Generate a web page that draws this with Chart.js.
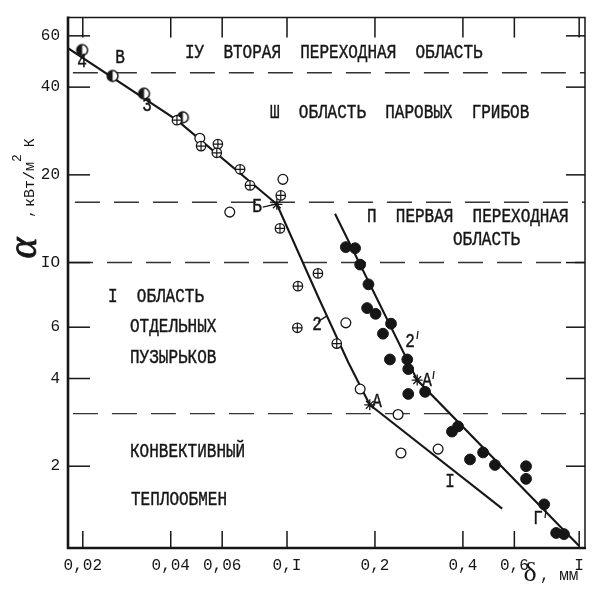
<!DOCTYPE html>
<html><head><meta charset="utf-8">
<script src="https://cdn.jsdelivr.net/npm/chart.js@4.4.1/dist/chart.umd.min.js"></script>
<style>html,body{margin:0;padding:0;background:#fff;}canvas{display:block;}</style>
</head><body>
<canvas id="c" width="594" height="593"></canvas>
<script>
// ---- data ----
const xTicks = [0.02, 0.04, 0.06, 0.1, 0.2, 0.4, 0.6, 1];
const xTickLabels = ['0,02', '0,04', '0,06', '0,I', '0,2', '0,4', '0,6', 'I'];
const yTicks = [2, 4, 6, 10, 20, 40, 60];
const yTickLabels = ['2', '4', '6', 'IO', '20', '40', '60'];

const halfPts = [[0.0199,53.6],[0.0253,43.7],[0.0324,38.0],[0.0440,31.5]];
const plusPts = [[0.0420,30.8],[0.0508,25.1],[0.0580,25.5],[0.0575,23.8],[0.0691,20.9],[0.0747,18.4],
                 [0.0952,17.0],[0.0946,13.1],[0.1276,9.18],[0.109,8.30],[0.1085,5.97],[0.148,5.27]];
const openPts = [[0.0503,26.7],[0.0968,19.3],[0.0637,14.9],[0.159,6.21],[0.178,3.68],[0.240,3.01],
                 [0.2455,2.22],[0.329,2.29]];
const filledPts = [[0.159,11.3],[0.171,11.2],[0.178,9.84],[0.190,8.42],[0.188,6.98],[0.201,6.67],
                   [0.227,6.17],[0.213,5.70],[0.225,4.65],[0.258,4.65],[0.260,4.31],[0.260,3.54],
                   [0.297,3.60],[0.367,2.63],[0.385,2.74],[0.423,2.11],[0.469,2.23],[0.515,2.02],
                   [0.658,2.00],[0.658,1.81],[0.759,1.48],[0.834,1.18],[0.887,1.17]];
const starPts = [[0.0923,15.85],[0.192,3.25],[0.279,3.95]];

const line1 = [[0.0178,54.4],[0.0420,30.8],[0.0923,15.85]];
const line2 = [[0.0923,15.85],[0.128,7.6],[0.162,4.55],[0.192,3.25]];
const lineI = [[0.192,3.25],[0.545,1.43]];
const line2p = [[0.146,14.7],[0.279,3.95],[1.0,1.065]];
const leaderB = [[0.0826,15.5],[0.0909,15.85]];
const leader2 = [[0.1277,6.27],[0.137,6.56]];
const dashLevels = [44.8, 16.1, 10, 3.03];
const dashStartX = [0.0185, 0.0188, 0.0178, 0.0185];

const xMin = 0.0178, xMax = 1.047, yMin = 1.048, yMax = 69.3;

// ---- text annotations (canvas pixel positions) ----
const notes = [
  ['IУ  ВТОРАЯ  ПЕРЕХОДНАЯ  ОБЛАСТЬ', 185, 53],
  ['Ш  ОБЛАСТЬ  ПАРОВЫХ  ГРИБОВ', 270, 113],
  ['П  ПЕРВАЯ  ПЕРЕХОДНАЯ', 367, 217],
  ['ОБЛАСТЬ', 453, 240],
  ['I  ОБЛАСТЬ', 108, 297],
  ['ОТДЕЛЬНЫХ', 130, 327],
  ['ПУЗЫРЬКОВ', 130, 358],
  ['КОНВЕКТИВНЫЙ', 130, 452],
  ['ТЕПЛООБМЕН', 131, 500],
];
const markLabels = [
  ['4', 82, 62], ['В', 120, 58], ['3', 147, 106], ['Б', 257, 207],
  ['2', 317, 325], ['2', 410, 342], ['I', 450, 482], ['Г', 538, 519],
  ['A', 427, 381], ['A', 377, 402]
];
const primes = [[418, 335], [434, 375], [546, 514]];

const toXY = a => a.map(p => ({x: p[0], y: p[1]}));
const INK = '#161616';

function halfCircle(r) {
  const c = document.createElement('canvas');
  const s = Math.ceil(2 * r + 4);
  c.width = s; c.height = s;
  const g = c.getContext('2d');
  const m = s / 2;
  g.fillStyle = '#fff';
  g.beginPath(); g.arc(m, m, r, 0, Math.PI * 2); g.fill();
  g.fillStyle = INK;
  g.beginPath(); g.arc(m, m, r, Math.PI / 2, Math.PI * 1.5); g.closePath(); g.fill();
  g.strokeStyle = INK; g.lineWidth = 1.5;
  g.beginPath(); g.arc(m, m, r, 0, Math.PI * 2); g.stroke();
  return c;
}

const lineDs = (d, w, order) => ({type: 'line', data: toXY(d), borderColor: INK, borderWidth: w,
  pointRadius: 0, showLine: true, fill: false, tension: 0, order: order});

const datasets = [];
datasets.push({data: toXY(plusPts), pointStyle: 'cross', pointRadius: 4.6, borderColor: INK, borderWidth: 1.2, order: 1});
datasets.push({data: toXY(plusPts), pointStyle: 'circle', pointRadius: 4.7, backgroundColor: '#fff', borderColor: INK, borderWidth: 1.3, order: 2});
datasets.push({data: toXY(openPts), pointStyle: 'circle', pointRadius: 4.9, backgroundColor: '#fff', borderColor: INK, borderWidth: 1.3, order: 2});
datasets.push({data: toXY(filledPts), pointStyle: 'circle', pointRadius: 5.4, backgroundColor: INK, borderColor: INK, borderWidth: 1, order: 2});
datasets.push({data: toXY(halfPts), pointStyle: halfCircle(5.4), order: 2});
datasets.push({data: toXY(starPts), pointStyle: 'star', pointRadius: 5.5, borderColor: INK, borderWidth: 1.3, order: 1});
datasets.push(lineDs(line1, 2.1, 10));
datasets.push(lineDs(line2, 2.1, 10));
datasets.push(lineDs(lineI, 2.1, 10));
datasets.push(lineDs(line2p, 2.1, 10));
datasets.push(lineDs(leaderB, 1.3, 10));
datasets.push(lineDs(leader2, 1.3, 10));
dashLevels.forEach((v, i) => {
  const d = lineDs([[dashStartX[i], v], [xMax, v]], 1.4, 20);
  d.borderDash = [25, 14];
  d.borderColor = '#333';
  datasets.push(d);
});

const framePlugin = {
  id: 'frame',
  afterDraw(chart) {
    const ctx = chart.ctx, a = chart.chartArea;
    const xs = chart.scales.x, ys = chart.scales.y;
    ctx.save();
    ctx.strokeStyle = INK;
    // frame
    ctx.lineWidth = 1.5;
    ctx.beginPath(); ctx.moveTo(a.left, a.top); ctx.lineTo(a.right, a.top); ctx.lineTo(a.right, a.bottom); ctx.stroke();
    ctx.lineWidth = 2.6;
    ctx.beginPath(); ctx.moveTo(a.left, a.top - 1); ctx.lineTo(a.left, a.bottom); ctx.lineTo(a.right + 1, a.bottom); ctx.stroke();
    // inward ticks
    ctx.lineWidth = 1.5;
    xTicks.forEach(v => {
      const px = xs.getPixelForValue(v);
      ctx.beginPath(); ctx.moveTo(px, a.bottom); ctx.lineTo(px, a.bottom - 17); ctx.stroke();
      ctx.beginPath(); ctx.moveTo(px, a.top); ctx.lineTo(px, a.top + 20); ctx.stroke();
    });
    yTicks.forEach(v => {
      const py = ys.getPixelForValue(v);
      ctx.beginPath(); ctx.moveTo(a.left, py); ctx.lineTo(a.left + 22, py); ctx.stroke();
      ctx.beginPath(); ctx.moveTo(a.right, py); ctx.lineTo(a.right - 19, py); ctx.stroke();
    });
    // text notes
    ctx.fillStyle = INK;
    const drawT = (s, x, y, size, align) => {
      ctx.save(); ctx.translate(x, y); ctx.scale(1, 1.28);
      ctx.font = size + 'px "Liberation Mono"';
      ctx.textAlign = align || 'left'; ctx.textBaseline = 'middle';
      ctx.lineWidth = 0.35; ctx.strokeStyle = INK;
      ctx.fillText(s, 0, 0); ctx.strokeText(s, 0, 0); ctx.restore();
    };
    notes.forEach(n => drawT(n[0], n[1], n[2], 16, 'left'));
    markLabels.forEach(n => drawT(n[0], n[1], n[2], 16, 'center'));
    primes.forEach(p => { ctx.lineWidth = 1.2; ctx.beginPath(); ctx.moveTo(p[0], p[1] - 4); ctx.lineTo(p[0] - 1, p[1] + 4); ctx.stroke(); });
    // y title
    ctx.save(); ctx.translate(25, 248); ctx.rotate(-Math.PI / 2);
    ctx.font = 'italic 40px "Liberation Serif"'; ctx.textAlign = 'center'; ctx.textBaseline = 'middle';
    ctx.lineWidth = 0.8; ctx.fillText('α', 0, 0); ctx.strokeText('α', 0, 0); ctx.restore();
    ctx.save(); ctx.translate(30, 218); ctx.rotate(-Math.PI / 2);
    ctx.textBaseline = 'middle'; ctx.textAlign = 'left';
    ctx.font = '15px "Liberation Mono"';
    ctx.fillText(',', 0, -2);
    ctx.fillText('кВт/м', 11, 0);
    let w = 11 + ctx.measureText('кВт/м').width;
    ctx.font = '13px "Liberation Mono"';
    ctx.fillText('2', w, -12);
    w += ctx.measureText('2').width + 7;
    ctx.font = '15px "Liberation Mono"';
    ctx.fillText('К', w, 0);
    ctx.restore();
    // x title
    ctx.font = '28px "Liberation Serif"'; ctx.textAlign = 'center'; ctx.textBaseline = 'middle';
    ctx.fillText('δ', 530, 574);
    ctx.font = '16px "Liberation Mono"'; ctx.textAlign = 'left';
    ctx.fillText(', мм', 540, 576);
    ctx.restore();
  }
};

new Chart(document.getElementById('c'), {
  type: 'scatter',
  data: {datasets},
  options: {
    responsive: false, animation: false, events: [],
    layout: {padding: {top: 11, right: 9, left: 0, bottom: 0}},
    plugins: {legend: {display: false}, tooltip: {enabled: false}},
    scales: {
      x: {
        type: 'logarithmic', min: xMin, max: xMax,
        afterBuildTicks: s => { s.ticks = xTicks.map(v => ({value: v})); },
        afterFit: s => { s.height = 45; },
        ticks: {autoSkip: false, maxRotation: 0, padding: 8, color: INK,
          font: {family: 'Liberation Mono', size: 16},
          callback: (v, i) => xTickLabels[i]},
        grid: {display: false, drawTicks: false}, border: {display: false}
      },
      y: {
        type: 'logarithmic', min: yMin, max: yMax,
        afterBuildTicks: s => { s.ticks = yTicks.map(v => ({value: v})); },
        afterFit: s => { s.width = 68; },
        ticks: {autoSkip: false, padding: 8, color: INK,
          font: {family: 'Liberation Mono', size: 16},
          callback: (v, i) => yTickLabels[i]},
        grid: {display: false, drawTicks: false}, border: {display: false}
      }
    }
  },
  plugins: [framePlugin]
});
</script>
</body></html>
